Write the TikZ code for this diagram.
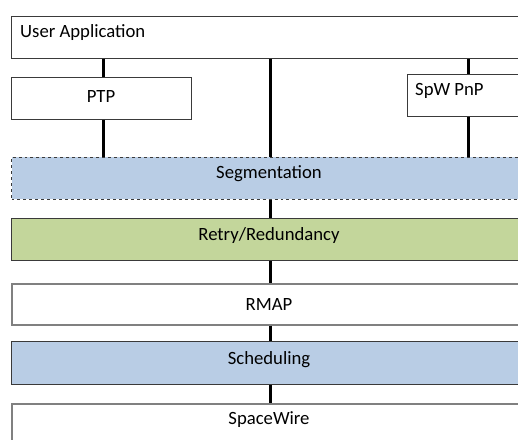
\documentclass[tikz,border=0pt]{standalone}
\usepackage{fontspec}
\setmainfont{Carlito}
\usetikzlibrary{positioning}
\definecolor{layerblue}{HTML}{B9CDE5}
\definecolor{layergreen}{HTML}{C3D69B}
\definecolor{edgedark}{HTML}{3A3A3A}
\definecolor{edgegray}{HTML}{808080}
\begin{document}
\begin{tikzpicture}[x=1bp,y=-1bp,
  layer/.style={draw=edgedark,line width=1bp,rectangle,anchor=north west,inner sep=0pt},
  softlayer/.style={layer,draw=edgegray,line width=1.6bp},
  lbl/.style={anchor=base,inner sep=0pt,font=\fontsize{18.7bp}{22bp}\selectfont},
  link/.style={line width=3bp,black}
]
\useasboundingbox (0,0) rectangle (518,440);
\clip (0,0) rectangle (518,440);

% stack of protocol layers
\node[layer,minimum width=519bp,minimum height=42bp] (ua) at (11,16) {};
\node[layer,minimum width=180bp,minimum height=42bp] (ptp) at (11,77) {};
\node[layer,minimum width=123bp,minimum height=42bp] (pnp) at (407,74) {};
\node[layer,dashed,fill=layerblue,minimum width=519bp,minimum height=42bp] (seg) at (11,157) {};
\node[layer,fill=layergreen,minimum width=519bp,minimum height=42bp] (retry) at (11,218) {};
\node[softlayer,minimum width=519bp,minimum height=41bp] (rmap) at (11,283) {};
\node[layer,fill=layerblue,minimum width=519bp,minimum height=43bp] (sched) at (11,341) {};
\node[softlayer,minimum width=519bp,minimum height=60bp] (sw) at (11,403) {};

% labels
\node[lbl,anchor=base west] (tua) at (20,38) {User Application};
\node[lbl] (tptp) at (101,103) {PTP};
\node[lbl,anchor=base west] (tpnp) at (415,96) {SpW PnP};
\node[lbl] (tseg) at (269,179) {Segmentation};
\node[lbl] (tretry) at (269,241) {Retry/Redundancy};
\node[lbl] (trmap) at (269,310) {RMAP};
\node[lbl] (tsched) at (269,364) {Scheduling};
\node[lbl] (tsw) at (269,424) {SpaceWire};

% connections between layers
\draw[link] (ua.south west -| 103,0) -- (ptp.north west -| 103,0);
\draw[link] (ptp.south west -| 103,0) -- (seg.north west -| 103,0);
\draw[link] (ua.south west -| 270,0) -- (seg.north west -| 270,0);
\draw[link] (ua.south west -| 468,0) -- (pnp.north west -| 468,0);
\draw[link] (pnp.south west -| 468,0) -- (seg.north west -| 468,0);
\draw[link] (seg.south west -| 270,0) -- (retry.north west -| 270,0);
\draw[link] (retry.south west -| 270,0) -- (rmap.north west -| 270,0);
\draw[link] (rmap.south west -| 270,0) -- (sched.north west -| 270,0);
\draw[link] (sched.south west -| 270,0) -- (sw.north west -| 270,0);
\end{tikzpicture}
\end{document}
